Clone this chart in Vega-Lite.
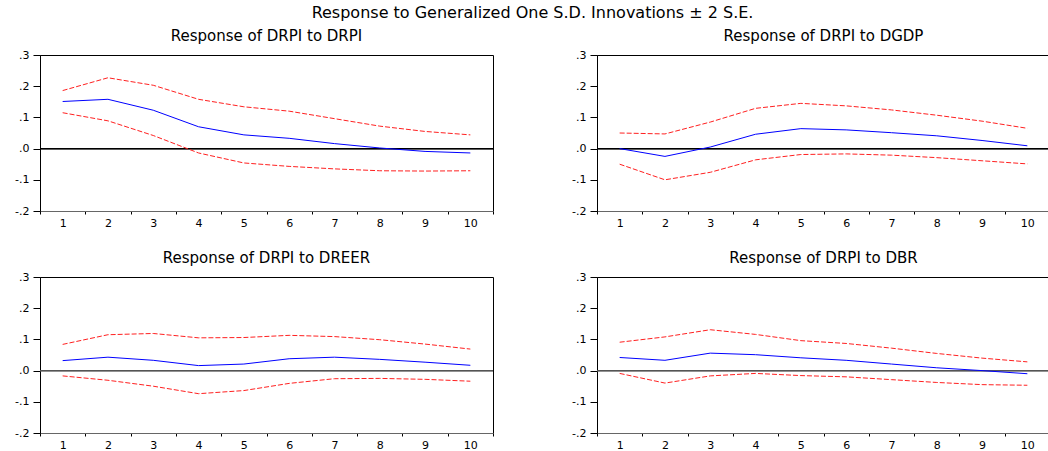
{
  "$schema": "https://vega.github.io/schema/vega-lite/v6.json",
  "background": "white",
  "padding": {"left": 14, "top": 4, "right": 0, "bottom": 0},
  "title": {"text": "Response to Generalized One S.D. Innovations ± 2 S.E.", "font": "DejaVu Sans", "fontSize": 16, "fontWeight": "normal", "anchor": "middle", "offset": 8, "color": "black"},
  "datasets": {
    "irf": [
      {"panel": "DRPI", "step": 1, "resp": 0.151, "hi": 0.186, "lo": 0.115},
      {"panel": "DRPI", "step": 2, "resp": 0.158, "hi": 0.227, "lo": 0.089},
      {"panel": "DRPI", "step": 3, "resp": 0.123, "hi": 0.203, "lo": 0.042},
      {"panel": "DRPI", "step": 4, "resp": 0.070, "hi": 0.158, "lo": -0.014},
      {"panel": "DRPI", "step": 5, "resp": 0.044, "hi": 0.134, "lo": -0.046},
      {"panel": "DRPI", "step": 6, "resp": 0.033, "hi": 0.120, "lo": -0.057},
      {"panel": "DRPI", "step": 7, "resp": 0.016, "hi": 0.096, "lo": -0.065},
      {"panel": "DRPI", "step": 8, "resp": 0.002, "hi": 0.072, "lo": -0.071},
      {"panel": "DRPI", "step": 9, "resp": -0.009, "hi": 0.055, "lo": -0.072},
      {"panel": "DRPI", "step": 10, "resp": -0.014, "hi": 0.044, "lo": -0.071},
      {"panel": "DGDP", "step": 1, "resp": 0.000, "hi": 0.050, "lo": -0.050},
      {"panel": "DGDP", "step": 2, "resp": -0.025, "hi": 0.047, "lo": -0.100},
      {"panel": "DGDP", "step": 3, "resp": 0.005, "hi": 0.085, "lo": -0.076},
      {"panel": "DGDP", "step": 4, "resp": 0.046, "hi": 0.129, "lo": -0.036},
      {"panel": "DGDP", "step": 5, "resp": 0.064, "hi": 0.145, "lo": -0.019},
      {"panel": "DGDP", "step": 6, "resp": 0.060, "hi": 0.137, "lo": -0.017},
      {"panel": "DGDP", "step": 7, "resp": 0.051, "hi": 0.124, "lo": -0.021},
      {"panel": "DGDP", "step": 8, "resp": 0.041, "hi": 0.107, "lo": -0.029},
      {"panel": "DGDP", "step": 9, "resp": 0.026, "hi": 0.088, "lo": -0.039},
      {"panel": "DGDP", "step": 10, "resp": 0.009, "hi": 0.065, "lo": -0.049},
      {"panel": "DREER", "step": 1, "resp": 0.032, "hi": 0.084, "lo": -0.017},
      {"panel": "DREER", "step": 2, "resp": 0.043, "hi": 0.115, "lo": -0.031},
      {"panel": "DREER", "step": 3, "resp": 0.033, "hi": 0.119, "lo": -0.050},
      {"panel": "DREER", "step": 4, "resp": 0.016, "hi": 0.105, "lo": -0.074},
      {"panel": "DREER", "step": 5, "resp": 0.021, "hi": 0.106, "lo": -0.064},
      {"panel": "DREER", "step": 6, "resp": 0.038, "hi": 0.113, "lo": -0.041},
      {"panel": "DREER", "step": 7, "resp": 0.043, "hi": 0.109, "lo": -0.026},
      {"panel": "DREER", "step": 8, "resp": 0.036, "hi": 0.099, "lo": -0.025},
      {"panel": "DREER", "step": 9, "resp": 0.027, "hi": 0.085, "lo": -0.028},
      {"panel": "DREER", "step": 10, "resp": 0.017, "hi": 0.069, "lo": -0.034},
      {"panel": "DBR", "step": 1, "resp": 0.042, "hi": 0.091, "lo": -0.009},
      {"panel": "DBR", "step": 2, "resp": 0.033, "hi": 0.108, "lo": -0.040},
      {"panel": "DBR", "step": 3, "resp": 0.056, "hi": 0.131, "lo": -0.017},
      {"panel": "DBR", "step": 4, "resp": 0.051, "hi": 0.116, "lo": -0.009},
      {"panel": "DBR", "step": 5, "resp": 0.041, "hi": 0.096, "lo": -0.016},
      {"panel": "DBR", "step": 6, "resp": 0.033, "hi": 0.087, "lo": -0.020},
      {"panel": "DBR", "step": 7, "resp": 0.021, "hi": 0.072, "lo": -0.029},
      {"panel": "DBR", "step": 8, "resp": 0.009, "hi": 0.055, "lo": -0.038},
      {"panel": "DBR", "step": 9, "resp": 0.000, "hi": 0.040, "lo": -0.045},
      {"panel": "DBR", "step": 10, "resp": -0.010, "hi": 0.028, "lo": -0.047}
    ]
  },
  "data": {"name": "irf"},
  "columns": 2,
  "spacing": {"column": 104, "row": 66},
  "bounds": "flush",
  "concat": [
    {
      "title": "Response of DRPI to DRPI",
      "width": 453, "height": 156,
      "transform": [{"filter": "datum.panel == 'DRPI'"}],
      "encoding": {
        "x": {"field": "step", "type": "ordinal", "scale": {"type": "band", "paddingInner": 0, "paddingOuter": 0}, "axis": {"title": null, "labelAngle": 0, "tickBand": "extent"}},
        "y": {"field": "resp", "type": "quantitative", "title": null, "scale": {"domain": [-0.2, 0.3], "nice": false, "zero": false}, "axis": {"values": [-0.2, -0.1, 0, 0.1, 0.2, 0.3], "labelExpr": "replace(replace(format(datum.value, '.1f'), '0.', '.'), '−', '-')"}}
      },
      "layer": [
        {"mark": {"type": "rule", "color": "black", "strokeWidth": 1}, "encoding": {"x": null, "y": {"datum": 0, "type": "quantitative"}}},
        {"mark": {"type": "line", "color": "#ff2020", "strokeWidth": 1, "strokeDash": [5, 2]}, "encoding": {"y": {"field": "hi", "type": "quantitative"}}},
        {"mark": {"type": "line", "color": "#ff2020", "strokeWidth": 1, "strokeDash": [5, 2]}, "encoding": {"y": {"field": "lo", "type": "quantitative"}}},
        {"mark": {"type": "line", "color": "#0000ff", "strokeWidth": 1}}
      ]
    },
    {
      "title": "Response of DRPI to DGDP",
      "width": 453, "height": 156,
      "transform": [{"filter": "datum.panel == 'DGDP'"}],
      "encoding": {
        "x": {"field": "step", "type": "ordinal", "scale": {"type": "band", "paddingInner": 0, "paddingOuter": 0}, "axis": {"title": null, "labelAngle": 0, "tickBand": "extent"}},
        "y": {"field": "resp", "type": "quantitative", "title": null, "scale": {"domain": [-0.2, 0.3], "nice": false, "zero": false}, "axis": {"values": [-0.2, -0.1, 0, 0.1, 0.2, 0.3], "labelExpr": "replace(replace(format(datum.value, '.1f'), '0.', '.'), '−', '-')"}}
      },
      "layer": [
        {"mark": {"type": "rule", "color": "black", "strokeWidth": 1}, "encoding": {"x": null, "y": {"datum": 0, "type": "quantitative"}}},
        {"mark": {"type": "line", "color": "#ff2020", "strokeWidth": 1, "strokeDash": [5, 2]}, "encoding": {"y": {"field": "hi", "type": "quantitative"}}},
        {"mark": {"type": "line", "color": "#ff2020", "strokeWidth": 1, "strokeDash": [5, 2]}, "encoding": {"y": {"field": "lo", "type": "quantitative"}}},
        {"mark": {"type": "line", "color": "#0000ff", "strokeWidth": 1}}
      ]
    },
    {
      "title": "Response of DRPI to DREER",
      "width": 453, "height": 156,
      "transform": [{"filter": "datum.panel == 'DREER'"}],
      "encoding": {
        "x": {"field": "step", "type": "ordinal", "scale": {"type": "band", "paddingInner": 0, "paddingOuter": 0}, "axis": {"title": null, "labelAngle": 0, "tickBand": "extent"}},
        "y": {"field": "resp", "type": "quantitative", "title": null, "scale": {"domain": [-0.2, 0.3], "nice": false, "zero": false}, "axis": {"values": [-0.2, -0.1, 0, 0.1, 0.2, 0.3], "labelExpr": "replace(replace(format(datum.value, '.1f'), '0.', '.'), '−', '-')"}}
      },
      "layer": [
        {"mark": {"type": "rule", "color": "#555555", "strokeWidth": 1}, "encoding": {"x": null, "y": {"datum": 0, "type": "quantitative"}}},
        {"mark": {"type": "line", "color": "#ff2020", "strokeWidth": 1, "strokeDash": [5, 2]}, "encoding": {"y": {"field": "hi", "type": "quantitative"}}},
        {"mark": {"type": "line", "color": "#ff2020", "strokeWidth": 1, "strokeDash": [5, 2]}, "encoding": {"y": {"field": "lo", "type": "quantitative"}}},
        {"mark": {"type": "line", "color": "#0000ff", "strokeWidth": 1}}
      ]
    },
    {
      "title": "Response of DRPI to DBR",
      "width": 453, "height": 156,
      "transform": [{"filter": "datum.panel == 'DBR'"}],
      "encoding": {
        "x": {"field": "step", "type": "ordinal", "scale": {"type": "band", "paddingInner": 0, "paddingOuter": 0}, "axis": {"title": null, "labelAngle": 0, "tickBand": "extent"}},
        "y": {"field": "resp", "type": "quantitative", "title": null, "scale": {"domain": [-0.2, 0.3], "nice": false, "zero": false}, "axis": {"values": [-0.2, -0.1, 0, 0.1, 0.2, 0.3], "labelExpr": "replace(replace(format(datum.value, '.1f'), '0.', '.'), '−', '-')"}}
      },
      "layer": [
        {"mark": {"type": "rule", "color": "#555555", "strokeWidth": 1}, "encoding": {"x": null, "y": {"datum": 0, "type": "quantitative"}}},
        {"mark": {"type": "line", "color": "#ff2020", "strokeWidth": 1, "strokeDash": [5, 2]}, "encoding": {"y": {"field": "hi", "type": "quantitative"}}},
        {"mark": {"type": "line", "color": "#ff2020", "strokeWidth": 1, "strokeDash": [5, 2]}, "encoding": {"y": {"field": "lo", "type": "quantitative"}}},
        {"mark": {"type": "line", "color": "#0000ff", "strokeWidth": 1}}
      ]
    }
  ],
  "config": {
    "view": {"stroke": "black", "strokeWidth": 1},
    "title": {"font": "DejaVu Sans", "fontSize": 15, "fontWeight": "normal", "color": "black", "offset": 5, "anchor": "middle"},
    "axis": {"grid": false, "domainColor": "black", "tickColor": "black", "labelColor": "black", "labelFont": "DejaVu Sans", "labelFontSize": 11, "labelOverlap": false},
    "axisX": {"tickSize": 3, "labelPadding": 3, "domainColor": "#666666"},
    "axisY": {"tickSize": 7, "labelPadding": 4}
  }
}
